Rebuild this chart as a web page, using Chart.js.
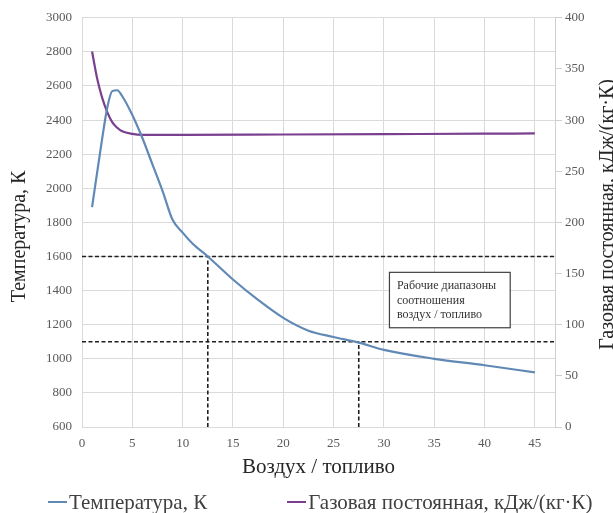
<!DOCTYPE html>
<html lang="ru">
<head>
  <meta charset="UTF-8" />
  <title>Температура и газовая постоянная</title>
  <script src="https://cdn.jsdelivr.net/npm/chart.js"></script>
  <style>
    html, body {
      margin: 0;
      padding: 0;
      background: #fff;
    }
    #wrap {
      position: relative;
      width: 613px;
      height: 513px;
    }
    #legend {
      position: absolute;
      left: 48px;
      top: 490px;
      display: flex;
      align-items: center;
      font-family: "Liberation Serif", "Times New Roman", serif;
      font-size: 21px;
      line-height: 24px;
      color: #404040;
      white-space: nowrap;
    }
    #legend .item {
      display: flex;
      align-items: center;
    }
    #legend .item + .item {
      margin-left: 80px;
    }
    #legend .mark {
      display: inline-block;
      width: 19px;
      height: 2px;
      margin-right: 2px;
    }
  </style>
</head>
<body>
  <div id="wrap">
    <canvas id="chart" width="613" height="513"></canvas>
    <div id="legend"></div>
  </div>

  <script>
    // Температура, К
    const airFuelT = [1, 2, 2.5, 3, 3.5, 4, 5, 6, 7, 8, 9, 10, 11, 12.5, 15, 17.5, 20, 22.5, 25, 27.5, 30, 35, 40, 45];
    const temperatureK = [1890, 2290, 2470, 2570, 2575, 2540, 2430, 2295, 2140, 1985, 1815, 1740, 1675, 1600, 1465, 1345, 1240, 1165, 1128, 1095, 1052, 1000, 962, 920];

    // Газовая постоянная
    const airFuelR = [1, 1.5, 2, 2.5, 3, 3.5, 4, 5, 6, 10, 20, 30, 40, 45];
    const gasConst = [367, 341, 322, 308, 298, 292.5, 289, 286.5, 285.6, 285.5, 285.9, 286.3, 286.7, 287];

    // рабочие диапазоны (пунктир)
    const workTemps = [1600, 1100];
    const workRatios = [12.5, 27.5];

    // оси
    const xRange = [0, 47];
    const tempRange = [600, 3000];
    const gasRange = [0, 400];
    const xTicks = [0, 5, 10, 15, 20, 25, 30, 35, 40, 45];
    const tempTicks = [600, 800, 1000, 1200, 1400, 1600, 1800, 2000, 2200, 2400, 2600, 2800, 3000];
    const gasTicks = [0, 50, 100, 150, 200, 250, 300, 350, 400];

    const xTitle = 'Воздух / топливо';
    const tempTitle = 'Температура, К';
    const gasTitle = 'Газовая постоянная, кДж/(кг·К)';
    const noteLines = ['Рабочие диапазоны', 'соотношения', 'воздух / топливо'];
    const noteBox = { xMin: 30.5, xMax: 42.5, yTop: 1510, yBottom: 1185 };

    const SERIF = '"Liberation Serif", "Times New Roman", serif';
    const GRID = '#dadada';
    const TICK = '#595959';
    const BLUE = '#6189b5';
    const PURPLE = '#7b3f8f';

    const pts = (xs, ys) => xs.map((x, i) => ({ x, y: ys[i] }));

    const dashed = {
      borderColor: '#1e1e1e',
      borderWidth: 1.6,
      borderDash: [4, 2.5],
      pointRadius: 0,
      fill: false,
      tension: 0,
      yAxisID: 'y',
      inLegend: false
    };

    const datasets = [
      {
        label: tempTitle,
        data: pts(airFuelT, temperatureK),
        borderColor: BLUE,
        borderWidth: 2.2,
        pointRadius: 0,
        cubicInterpolationMode: 'monotone',
        yAxisID: 'y',
        inLegend: true
      },
      {
        label: gasTitle,
        data: pts(airFuelR, gasConst),
        borderColor: PURPLE,
        borderWidth: 2.2,
        pointRadius: 0,
        cubicInterpolationMode: 'monotone',
        yAxisID: 'y1',
        inLegend: true
      }
    ];

    workTemps.forEach(t => {
      datasets.push(Object.assign({}, dashed, {
        label: 'T ' + t,
        data: [{ x: xRange[0], y: t }, { x: xRange[1], y: t }]
      }));
    });
    workRatios.forEach((r, i) => {
      datasets.push(Object.assign({}, dashed, {
        label: 'AFR ' + r,
        data: [{ x: r, y: tempRange[0] }, { x: r, y: workTemps[i] }]
      }));
    });

    const setTicks = list => scale => {
      scale.ticks = list.map(v => ({ value: v }));
    };
    const plain = v => String(v);

    // подписи вертикальных осей (обе читаются снизу вверх) и рамка с текстом
    const extras = {
      id: 'extras',
      afterDatasetsDraw(chart) {
        const { ctx, scales } = chart;
        const l = scales.x.getPixelForValue(noteBox.xMin);
        const r = scales.x.getPixelForValue(noteBox.xMax);
        const t = scales.y.getPixelForValue(noteBox.yTop);
        const b = scales.y.getPixelForValue(noteBox.yBottom);
        ctx.save();
        ctx.fillStyle = '#fff';
        ctx.fillRect(l, t, r - l, b - t);
        ctx.strokeStyle = '#404040';
        ctx.lineWidth = 1.2;
        ctx.strokeRect(l + 0.5, t + 0.5, r - l, b - t);
        ctx.fillStyle = '#333';
        ctx.font = '12px ' + SERIF;
        ctx.textAlign = 'left';
        ctx.textBaseline = 'middle';
        noteLines.forEach((s, i) => ctx.fillText(s, l + 8, t + 14 + i * 14.5));
        ctx.restore();
      },
      afterDraw(chart) {
        const { ctx, chartArea, scales } = chart;
        const mid = (chartArea.top + chartArea.bottom) / 2;
        const side = (text, x, y) => {
          ctx.save();
          ctx.translate(x, y);
          ctx.rotate(-Math.PI / 2);
          ctx.fillText(text, 0, 0);
          ctx.restore();
        };
        ctx.save();
        ctx.font = '20px ' + SERIF;
        ctx.fillStyle = '#262626';
        ctx.textAlign = 'center';
        ctx.textBaseline = 'middle';
        side(tempTitle, scales.y.left + 20, mid + 14);
        side(gasTitle, scales.y1.right - 5, mid - 8);
        ctx.restore();
      }
    };

    Chart.defaults.font.family = SERIF;

    const chart = new Chart(document.getElementById('chart'), {
      type: 'line',
      data: { datasets },
      options: {
        responsive: false,
        animation: false,
        layout: { padding: { top: 14, left: 0, right: 0, bottom: 33 } },
        plugins: {
          legend: { display: false },
          tooltip: { enabled: false }
        },
        scales: {
          x: {
            type: 'linear',
            min: xRange[0],
            max: xRange[1],
            afterBuildTicks: setTicks(xTicks),
            afterFit: s => { s.height = 53; },
            grid: { color: GRID, drawTicks: false },
            border: { color: GRID },
            ticks: { color: TICK, font: { size: 13 }, padding: 9, maxRotation: 0, callback: plain },
            title: {
              display: true,
              text: xTitle,
              color: '#262626',
              font: { size: 21 },
              padding: { top: 0, bottom: 0 }
            }
          },
          y: {
            position: 'left',
            min: tempRange[0],
            max: tempRange[1],
            afterBuildTicks: setTicks(tempTicks),
            afterFit: s => { s.width = 82; },
            grid: { color: GRID, drawTicks: false },
            border: { display: false },
            ticks: { color: TICK, font: { size: 13 }, padding: 10, callback: plain }
          },
          y1: {
            position: 'right',
            min: gasRange[0],
            max: gasRange[1],
            afterBuildTicks: setTicks(gasTicks),
            afterFit: s => { s.width = 58; },
            grid: { drawOnChartArea: false, color: '#cfcfcf', tickLength: 7 },
            border: { color: '#cfcfcf' },
            ticks: { color: TICK, font: { size: 13 }, padding: 3, callback: plain }
          }
        }
      },
      plugins: [extras]
    });

    // легенда внизу
    const legend = document.getElementById('legend');
    chart.data.datasets.filter(d => d.inLegend).forEach(d => {
      const item = document.createElement('span');
      item.className = 'item';
      const mark = document.createElement('span');
      mark.className = 'mark';
      mark.style.background = d.borderColor;
      item.appendChild(mark);
      item.appendChild(document.createTextNode(d.label));
      legend.appendChild(item);
    });
  </script>
</body>
</html>
